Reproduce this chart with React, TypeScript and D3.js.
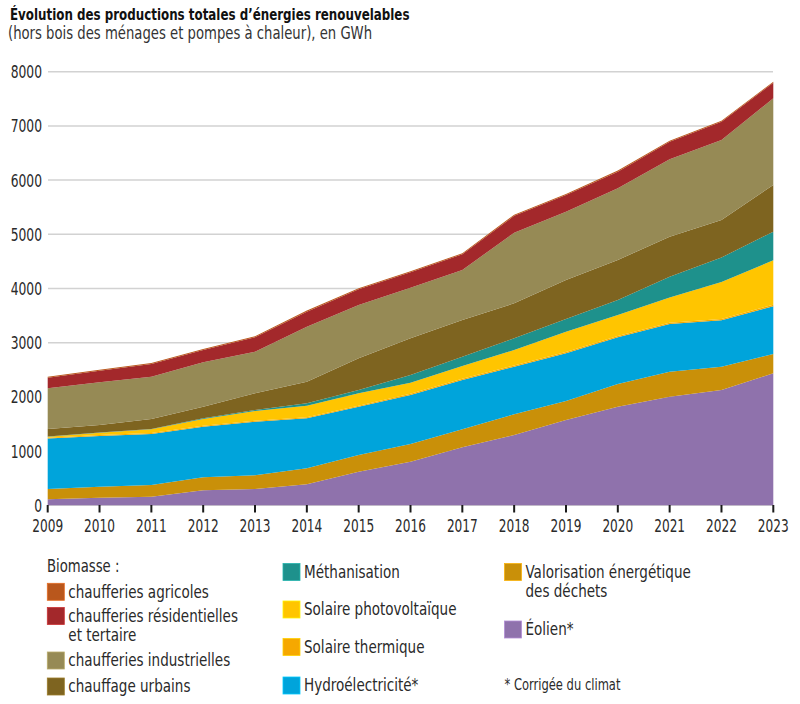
import React from "react";
import * as d3 from "d3";

const years = [2009, 2010, 2011, 2012, 2013, 2014, 2015, 2016, 2017, 2018, 2019, 2020, 2021, 2022, 2023];
const yTicks = [0, 1000, 2000, 3000, 4000, 5000, 6000, 7000, 8000];

const eolien = [111, 140, 159, 277, 301, 387, 620, 804, 1070, 1297, 1574, 1819, 2004, 2127, 2435];
const valorisation = [190, 203, 216, 240, 252, 296, 308, 327, 332, 382, 350, 419, 461, 430, 357];
const hydro = [931, 936, 940, 933, 989, 922, 891, 904, 910, 878, 880, 862, 880, 856, 880];
const solaireThermique = [15, 16, 17, 18, 18, 19, 20, 21, 22, 22, 23, 24, 25, 26, 28];
const photovoltaique = [19, 44, 70, 124, 180, 214, 227, 206, 236, 286, 373, 386, 464, 681, 820];
const methanisation = [3, 3, 4, 13, 18, 44, 61, 142, 172, 216, 235, 278, 384, 452, 528];
const chauffageUrbains = [139, 140, 186, 214, 308, 398, 585, 677, 677, 646, 722, 738, 738, 692, 862];
const industrielles = [751, 787, 781, 819, 768, 1015, 984, 934, 922, 1303, 1260, 1323, 1428, 1476, 1599];
const residentielles = [195, 214, 234, 227, 266, 277, 289, 284, 290, 310, 308, 306, 324, 337, 288];
const agricoles = [16, 17, 18, 17, 18, 20, 20, 19, 19, 20, 20, 20, 20, 20, 18];

const seriesKeys = [
  "eolien",
  "valorisation",
  "hydro",
  "solaireThermique",
  "photovoltaique",
  "methanisation",
  "chauffageUrbains",
  "industrielles",
  "residentielles",
  "agricoles",
];
const seriesValues: Record<string, number[]> = {
  eolien,
  valorisation,
  hydro,
  solaireThermique,
  photovoltaique,
  methanisation,
  chauffageUrbains,
  industrielles,
  residentielles,
  agricoles,
};
const colors: Record<string, string> = {
  eolien: "#8f72ac",
  valorisation: "#c99009",
  hydro: "#00a4db",
  solaireThermique: "#f6a800",
  photovoltaique: "#ffc500",
  methanisation: "#1e918c",
  chauffageUrbains: "#7e6420",
  industrielles: "#968a55",
  residentielles: "#a3282b",
  agricoles: "#b9571c",
};

const FONT = "'DejaVu Sans Condensed', 'DejaVu Sans', sans-serif";

type STextProps = {
  x: number;
  y: number;
  sx?: number;
  size: number;
  anchor?: "start" | "middle" | "end";
  weight?: string;
  fill?: string;
  children: React.ReactNode;
};

function SText({ x, y, sx = 1, size, anchor = "start", weight = "normal", fill = "#2a2a2a", children }: STextProps) {
  return (
    <text
      transform={`translate(${x},${y}) scale(${sx},1)`}
      textAnchor={anchor}
      fontSize={size}
      fontWeight={weight}
      fill={fill}
    >
      {children}
    </text>
  );
}

export default function App() {
  const x = d3.scaleLinear().domain([2009, 2023]).range([47.7, 773.3]);
  const y = d3.scaleLinear().domain([0, 8000]).range([505.3, 71.7]);

  const table = years.map((yr, i) => {
    const row: Record<string, number> = { year: yr };
    seriesKeys.forEach((k) => (row[k] = seriesValues[k][i]));
    return row;
  });
  const stacked = d3.stack<Record<string, number>>().keys(seriesKeys)(table);
  const area = d3
    .area<d3.SeriesPoint<Record<string, number>>>()
    .x((d) => x(d.data.year))
    .y0((d) => y(d[0]))
    .y1((d) => y(d[1]));

  const legendCol1 = [
    { key: "agricoles", lines: ["chaufferies agricoles"], y: 583.3 },
    { key: "residentielles", lines: ["chaufferies résidentielles", "et tertaire"], y: 607.5 },
    { key: "industrielles", lines: ["chaufferies industrielles"], y: 652 },
    { key: "chauffageUrbains", lines: ["chauffage urbains"], y: 678 },
  ];
  const legendCol2 = [
    { key: "methanisation", lines: ["Méthanisation"], y: 563.5 },
    { key: "photovoltaique", lines: ["Solaire photovoltaïque"], y: 601 },
    { key: "solaireThermique", lines: ["Solaire thermique"], y: 638.5 },
    { key: "hydro", lines: ["Hydroélectricité*"], y: 677 },
  ];
  const legendCol3 = [
    { key: "valorisation", lines: ["Valorisation énergétique", "des déchets"], y: 563.5 },
    { key: "eolien", lines: ["Éolien*"], y: 621 },
  ];

  const LEG_SX = 0.86;
  const renderLegend = (items: typeof legendCol1, sx: number) =>
    items.map((it) => (
      <g key={it.key}>
        <rect
          x={sx}
          y={it.y}
          width={17}
          height={17}
          fill={colors[it.key]}
          stroke={d3.color(colors[it.key])!.brighter(0.6).formatHex()}
          strokeWidth={0.8}
        />
        {it.lines.map((l, j) => (
          <SText key={j} x={sx + 21} y={it.y + 14.3 + j * 19.5} size={17.5} sx={LEG_SX}>
            {l}
          </SText>
        ))}
      </g>
    ));

  return (
    <svg
      width={800}
      height={704}
      style={{ position: "absolute", left: 0, top: 0, background: "#fff" }}
      fontFamily={FONT}
    >
      <rect width={800} height={704} fill="#fff" />
      <SText x={10} y={19.5} size={16.5} sx={0.8} weight="bold" fill="#111">
        Évolution des productions totales d’énergies renouvelables
      </SText>
      <SText x={8} y={38.5} size={17} sx={0.865} fill="#333">
        (hors bois des ménages et pompes à chaleur), en GWh
      </SText>

      {yTicks.map((t) => (
        <g key={t}>
          <line x1={48} x2={773} y1={y(t)} y2={y(t)} stroke="#d2d2d2" strokeWidth={1.5} />
          <SText x={42} y={y(t) + 6.5} anchor="end" size={18} sx={0.76}>
            {t}
          </SText>
        </g>
      ))}

      {stacked.map((s) => (
        <path key={s.key} d={area(s) || ""} fill={colors[s.key]} />
      ))}

      {years.map((yr) => (
        <g key={yr}>
          <line x1={x(yr)} x2={x(yr)} y1={505} y2={512.5} stroke="#1a1a1a" strokeWidth={2} />
          <SText x={x(yr)} y={531.5} anchor="middle" size={18} sx={0.75}>
            {yr}
          </SText>
        </g>
      ))}

      <SText x={47} y={572} size={17.5} sx={0.84}>
        Biomasse :
      </SText>
      {renderLegend(legendCol1, 47.3)}
      {renderLegend(legendCol2, 283)}
      {renderLegend(legendCol3, 504.5)}
      <SText x={504.5} y={690} size={15} sx={0.855}>
        * Corrigée du climat
      </SText>
    </svg>
  );
}
